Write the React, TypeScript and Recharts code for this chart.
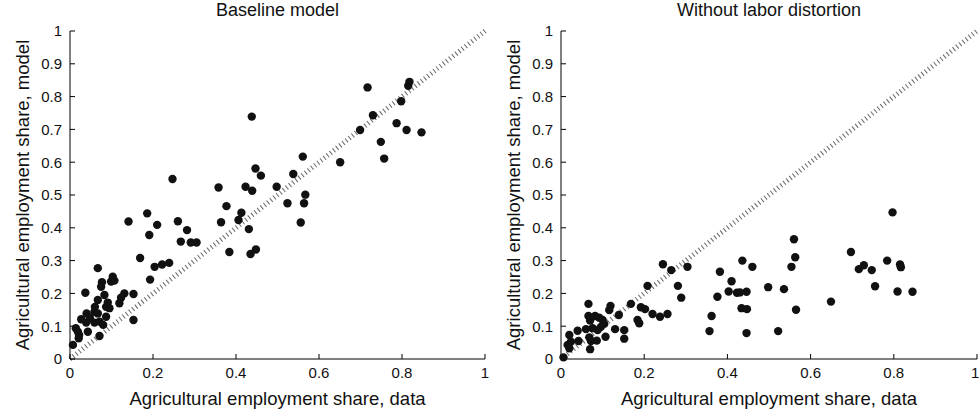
import React from "react";
import {
  ScatterChart,
  Scatter,
  XAxis,
  YAxis,
  ReferenceLine,
} from "recharts";

// agricultural employment share: data (x) vs model (y)
const baselineX = [
  0.717, 0.818, 0.815, 0.798, 0.73, 0.787, 0.811, 0.847, 0.699, 0.749, 0.757,
  0.651, 0.561, 0.538, 0.498, 0.567, 0.524, 0.564, 0.556, 0.438, 0.447, 0.46,
  0.247, 0.358, 0.423, 0.439, 0.186, 0.141, 0.21, 0.191, 0.26, 0.282, 0.267,
  0.291, 0.305, 0.377, 0.364, 0.413, 0.406, 0.431, 0.384, 0.435, 0.448, 0.169,
  0.239, 0.222, 0.204, 0.193, 0.067, 0.077, 0.075, 0.103, 0.099, 0.107, 0.037,
  0.083, 0.153, 0.131, 0.123, 0.119, 0.067, 0.091, 0.087, 0.095, 0.059, 0.04,
  0.067, 0.087, 0.027, 0.039, 0.059, 0.071, 0.08, 0.153, 0.014, 0.019, 0.022,
  0.043, 0.071, 0.021, 0.007, 0.06, 0.048,
];
const baselineY = [
  0.828, 0.845, 0.833, 0.786, 0.743, 0.719, 0.698, 0.691, 0.698, 0.662, 0.611,
  0.6, 0.617, 0.564, 0.525, 0.501, 0.475, 0.475, 0.416, 0.739, 0.581, 0.559,
  0.549, 0.523, 0.525, 0.513, 0.444, 0.419, 0.409, 0.378, 0.42, 0.393, 0.358,
  0.355, 0.355, 0.466, 0.417, 0.446, 0.424, 0.396, 0.326, 0.32, 0.334, 0.308,
  0.293, 0.288, 0.281, 0.242, 0.277, 0.234, 0.22, 0.251, 0.236, 0.239, 0.202,
  0.195, 0.198, 0.2, 0.187, 0.17, 0.18, 0.172, 0.159, 0.155, 0.144, 0.139,
  0.139, 0.129, 0.121, 0.111, 0.111, 0.114, 0.104, 0.119, 0.094, 0.083, 0.073,
  0.083, 0.07, 0.063, 0.043, 0.159, 0.125,
];

const noDistX = [
  0.208, 0.066, 0.119, 0.116, 0.168, 0.139, 0.066, 0.082, 0.092, 0.1, 0.07,
  0.192, 0.202, 0.22, 0.238, 0.256, 0.184, 0.188, 0.104, 0.096, 0.076, 0.06,
  0.04, 0.088, 0.13, 0.152, 0.152, 0.107, 0.02, 0.068, 0.072, 0.086, 0.042,
  0.024, 0.016, 0.02, 0.07, 0.006, 0.245, 0.265, 0.304, 0.281, 0.289, 0.436,
  0.46, 0.382, 0.41, 0.403, 0.423, 0.43, 0.446, 0.498, 0.376, 0.434, 0.447,
  0.362, 0.357, 0.446, 0.522, 0.797, 0.56, 0.563, 0.554, 0.536, 0.565, 0.649,
  0.697, 0.784, 0.728, 0.716, 0.747, 0.815, 0.817, 0.755, 0.809, 0.845,
];
const noDistY = [
  0.223, 0.168, 0.162, 0.149, 0.168, 0.134, 0.131, 0.131, 0.126, 0.119, 0.117,
  0.158, 0.152, 0.137, 0.129, 0.137, 0.119, 0.109, 0.107, 0.098, 0.094, 0.091,
  0.086, 0.088, 0.091, 0.088, 0.062, 0.068, 0.073, 0.066, 0.055, 0.056, 0.055,
  0.053, 0.043, 0.033, 0.03, 0.005, 0.289, 0.271, 0.281, 0.223, 0.187, 0.3,
  0.281, 0.266, 0.237, 0.206, 0.202, 0.203, 0.205, 0.219, 0.19, 0.155, 0.152,
  0.131, 0.085, 0.079, 0.085, 0.447, 0.365, 0.31, 0.281, 0.213, 0.15, 0.175,
  0.326, 0.3, 0.286, 0.274, 0.271, 0.288, 0.28, 0.222, 0.206, 0.205,
];

const xTicks = [0, 0.2, 0.4, 0.6, 0.8, 1];
const yTicks = [0, 0.1, 0.2, 0.3, 0.4, 0.5, 0.6, 0.7, 0.8, 0.9, 1];

const FONT = "'Liberation Sans', Arial, Helvetica, sans-serif";
const XLABEL = "Agricultural employment share, data";
const YLABEL = "Agricultural employment share, model";

const toPoints = (xs: number[], ys: number[]) =>
  xs.map((x, i) => ({ x, y: ys[i] }));

const Dot = (props: any) => (
  <circle cx={props.cx} cy={props.cy} r={4.2} fill="#111" />
);

function Panel({
  title,
  left,
  width,
  rightGap,
  data,
}: {
  title: string;
  left: number;
  width: number;
  rightGap: number;
  data: { x: number; y: number }[];
}) {
  const tickStyle = { fill: "#111", fontSize: 15, fontFamily: FONT };
  const axisStroke = { stroke: "#000" };
  const plotLeft = 70;
  const plotCenter = plotLeft + (width - rightGap - plotLeft) / 2;
  return (
    <div style={{ position: "absolute", left, top: 0, width, height: 411 }}>
      <div
        style={{
          position: "absolute",
          left: plotLeft,
          right: rightGap,
          top: 0,
          textAlign: "center",
          fontSize: 18,
          fontFamily: FONT,
          color: "#111",
        }}
      >
        {title}
      </div>
      <ScatterChart
        width={width}
        height={411}
        margin={{ top: 31, right: rightGap, left: 0, bottom: 0 }}
      >
        <XAxis
          type="number"
          dataKey="x"
          domain={[0, 1]}
          ticks={xTicks}
          height={52}
          tickSize={-5}
          tickMargin={13}
          tick={tickStyle}
          axisLine={axisStroke}
          tickLine={axisStroke}
          label={{
            content: () => (
              <text
                x={plotCenter}
                y={405}
                textAnchor="middle"
                fontSize={18.5}
                fontFamily={FONT}
                fill="#111"
              >
                {XLABEL}
              </text>
            ),
          }}
        />
        <YAxis
          type="number"
          dataKey="y"
          domain={[0, 1]}
          ticks={yTicks}
          width={plotLeft}
          tickSize={-5}
          tickMargin={13}
          tick={tickStyle}
          axisLine={axisStroke}
          tickLine={axisStroke}
          label={{
            content: () => (
              <text
                x={29}
                y={195}
                transform="rotate(-90 29 195)"
                textAnchor="middle"
                fontSize={18.5}
                fontFamily={FONT}
                fill="#111"
              >
                {YLABEL}
              </text>
            ),
          }}
        />
        <ReferenceLine
          segment={[
            { x: 0, y: 0 },
            { x: 1, y: 1 },
          ]}
          stroke="#666"
          strokeWidth={5}
          strokeDasharray="1 3"
        />
        <Scatter data={data} shape={Dot} isAnimationActive={false} />
      </ScatterChart>
    </div>
  );
}

export default function App() {
  return (
    <div
      style={{
        position: "absolute",
        left: 0,
        top: 0,
        width: 979,
        height: 411,
        background: "#fff",
      }}
    >
      <Panel
        title="Baseline model"
        left={0}
        width={500}
        rightGap={15}
        data={toPoints(baselineX, baselineY)}
      />
      <Panel
        title="Without labor distortion"
        left={491}
        width={488}
        rightGap={2}
        data={toPoints(noDistX, noDistY)}
      />
    </div>
  );
}
